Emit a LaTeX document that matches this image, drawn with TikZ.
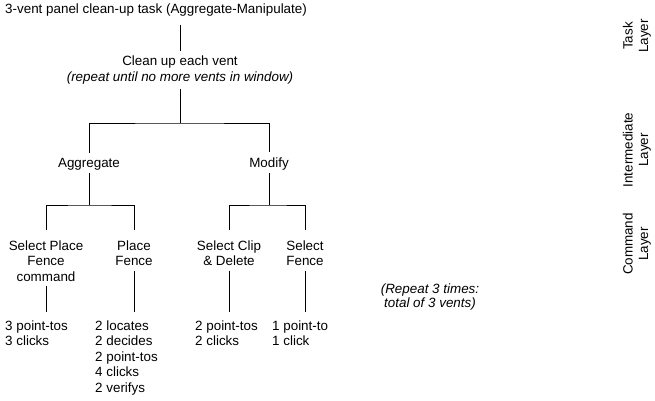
\documentclass[tikz,border=0pt]{standalone}
\usepackage{fontspec}
\setmainfont{Liberation Sans}
\begin{document}
\begin{tikzpicture}[x=1pt,y=-1pt,
  lbl/.style={inner sep=0pt,align=center,font=\fontsize{13.4}{15.5}\selectfont},
  cnt/.style={inner sep=0pt,align=left,font=\fontsize{13.4}{15.5}\selectfont},
  conn/.style={line width=0.9pt}]
\useasboundingbox (0,0) rectangle (655,401);
\node[lbl,anchor=base west] (title) at (5,14) {3-vent panel clean-up task (Aggregate-Manipulate)};
\node[lbl,anchor=base] (clean) at (180,81.5) {Clean up each vent\\\textit{(repeat until no more vents in window)}};
\node[lbl,anchor=base] (agg) at (89,167) {Aggregate};
\node[lbl,anchor=base] (mod) at (269,167) {Modify};
\node[lbl,anchor=base] (spf) at (46,281) {Select Place\\Fence\\command};
\node[lbl,anchor=base] (pf) at (134,265.5) {Place\\Fence};
\node[lbl,anchor=base] (scd) at (229,265.5) {Select Clip\\\& Delete};
\node[lbl,anchor=base] (sf) at (305,265.5) {Select\\Fence};
\node[cnt,anchor=base west] (c1) at (5,345.5) {3 point-tos\\3 clicks};
\node[cnt,anchor=base west] (c2) at (95,392) {2 locates\\2 decides\\2 point-tos\\4 clicks\\2 verifys};
\node[cnt,anchor=base west] (c3) at (195,345.5) {2 point-tos\\2 clicks};
\node[cnt,anchor=base west] (c4) at (272,345.5) {1 point-to\\1 click};
\node[lbl,font=\fontsize{13.4}{14}\selectfont\itshape] (rep) at (430,297) {(Repeat 3 times:\\total of 3 vents)};
\node[lbl,rotate=90] (task) at (637,36) {Task\\Layer};
\node[lbl,rotate=90] (inter) at (637,150) {Intermediate\\Layer};
\node[lbl,rotate=90] (cmd) at (637,244) {Command\\Layer};
\draw[conn] (title.south -| clean.north) ++(0,8) -- ([yshift=5pt]clean.north);
\coordinate (b1) at (180,123);
\draw[conn] ([yshift=-5pt]clean.south) -- (b1);
\draw[conn] ([yshift=5pt]agg.north) |- (b1) -| ([yshift=5pt]mod.north);
\coordinate (b2) at (89,205);
\coordinate (b3) at (269,205);
\draw[conn] ([yshift=-3pt]agg.south) -- (b2);
\draw[conn] ([yshift=-3pt]mod.south) -- (b3);
\draw[conn] ([yshift=10pt]spf.north) |- (b2) -| ([yshift=10pt]pf.north);
\draw[conn] ([yshift=10pt]scd.north) |- (b3) -| ([yshift=10pt]sf.north);
\draw[conn] ([yshift=-5pt]spf.south) -- ([yshift=8pt]c1.north -| spf.south);
\draw[conn] ([yshift=-5pt]pf.south) -- ([yshift=8pt]c2.north -| pf.south);
\draw[conn] ([yshift=-5pt]scd.south) -- ([yshift=8pt]c3.north -| scd.south);
\draw[conn] ([yshift=-5pt]sf.south) -- ([yshift=8pt]c4.north -| sf.south);
\end{tikzpicture}
\end{document}
